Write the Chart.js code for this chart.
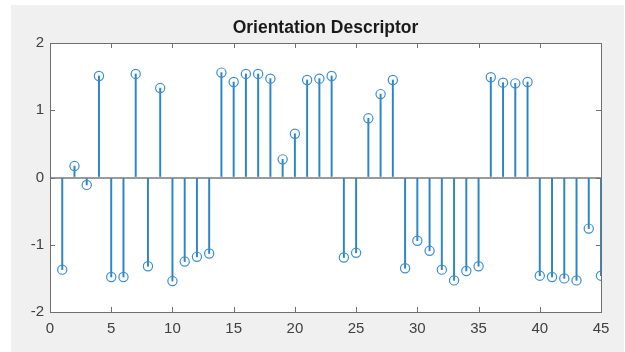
<!DOCTYPE html>
<html>
<head>
<meta charset="utf-8">
<script src="https://cdn.jsdelivr.net/npm/chart.js@4"></script>
<style>
  html, body { margin: 0; padding: 0; background: #fff; }
  #wrap { width: 625px; height: 352px; }
</style>
</head>
<body>
<div id="wrap"><canvas id="stemChart" width="625" height="352"></canvas></div>
<script>
// sample index 1..45 and descriptor values
const indices = [];
for (let i = 1; i <= 45; i++) indices.push(i);
const values = [
    -1.37, 0.17, -0.11, 1.51, -1.48, -1.48, 1.54, -1.32, 1.33, -1.54,
    -1.25, -1.18, -1.13, 1.56, 1.42, 1.54, 1.54, 1.47, 0.27, 0.65,
    1.45, 1.47, 1.51, -1.19, -1.12, 0.88, 1.24, 1.45, -1.35, -0.94,
    -1.09, -1.37, -1.53, -1.39, -1.32, 1.49, 1.41, 1.40, 1.42, -1.46,
    -1.48, -1.50, -1.53, -0.76, -1.46
];
const xTicks = [0, 5, 10, 15, 20, 25, 30, 35, 40, 45];
const yTicks = [-2, -1, 0, 1, 2];

const points = indices.map((x, i) => ({ x: x, y: values[i] }));

// figure background + matlab style box with inward ticks
const figurePlugin = {
    id: 'figureBox',
    beforeDraw(chart) {
        const c = chart.ctx, a = chart.chartArea;
        c.save();
        c.fillStyle = '#ffffff';
        c.fillRect(0, 0, chart.width, chart.height);
        c.fillStyle = '#f0f0f0';
        c.fillRect(11, 5, 613, chart.height - 5);
        c.fillStyle = '#ffffff';
        c.fillRect(a.left, a.top, a.right - a.left, a.bottom - a.top);
        c.restore();
    },
    afterDraw(chart) {
        const c = chart.ctx, a = chart.chartArea;
        const xs = chart.scales.x, ys = chart.scales.y;
        c.save();
        c.strokeStyle = '#6f6f6f';
        c.lineWidth = 1;
        c.beginPath();
        xTicks.forEach(v => {
            const px = Math.round(xs.getPixelForValue(v)) + 0.5;
            c.moveTo(px, a.bottom); c.lineTo(px, a.bottom - 5);
            c.moveTo(px, a.top); c.lineTo(px, a.top + 5);
        });
        yTicks.forEach(v => {
            const py = Math.round(ys.getPixelForValue(v)) + 0.5;
            c.moveTo(a.left, py); c.lineTo(a.left + 5, py);
            c.moveTo(a.right, py); c.lineTo(a.right - 5, py);
        });
        c.stroke();
        c.strokeRect(Math.round(a.left) + 0.5, Math.round(a.top) + 0.5,
            Math.round(a.right - a.left), Math.round(a.bottom - a.top));
        c.restore();
    }
};

new Chart(document.getElementById('stemChart'), {
    type: 'scatter',
    data: {
        datasets: [
            {
                type: 'bar',
                label: 'stems',
                data: points,
                backgroundColor: '#2a86c8',
                borderWidth: 0,
                barThickness: 1.3,
                order: 2
            },
            {
                type: 'scatter',
                label: 'markers',
                data: points,
                pointStyle: 'circle',
                pointRadius: 4.6,
                pointBorderWidth: 1.2,
                pointBorderColor: '#3b8fd0',
                pointBackgroundColor: 'rgba(0,0,0,0)',
                order: 1
            }
        ]
    },
    options: {
        responsive: false,
        animation: false,
        layout: { padding: { left: 0, right: 24, top: 18, bottom: 0 } },
        plugins: {
            legend: { display: false },
            tooltip: { enabled: false },
            title: {
                display: true,
                text: 'Orientation Descriptor',
                fullSize: false,
                color: '#1a1a1a',
                font: { family: 'Liberation Sans, Arial, sans-serif', size: 17.5, weight: 'bold' },
                padding: { top: 0, bottom: 4 }
            }
        },
        scales: {
            x: {
                type: 'linear',
                min: 0,
                max: 45,
                offset: false,
                afterFit(scale) { scale.height = 40; },
                afterBuildTicks(scale) { scale.ticks = xTicks.map(v => ({ value: v })); },
                grid: { display: false, drawTicks: false, offset: false },
                border: { display: false },
                ticks: {
                    color: '#404040',
                    padding: 8,
                    maxRotation: 0,
                    font: { family: 'Liberation Sans, Arial, sans-serif', size: 15 }
                }
            },
            y: {
                type: 'linear',
                min: -2,
                max: 2,
                afterFit(scale) { scale.width = 50; },
                afterBuildTicks(scale) { scale.ticks = yTicks.map(v => ({ value: v })); },
                grid: {
                    drawTicks: false,
                    lineWidth: 2,
                    color: ctx => (ctx.tick && ctx.tick.value === 0) ? '#9a9a9a' : 'rgba(0,0,0,0)'
                },
                border: { display: false },
                ticks: {
                    color: '#404040',
                    padding: 6,
                    font: { family: 'Liberation Sans, Arial, sans-serif', size: 15 }
                }
            }
        }
    },
    plugins: [figurePlugin]
});
</script>
</body>
</html>
